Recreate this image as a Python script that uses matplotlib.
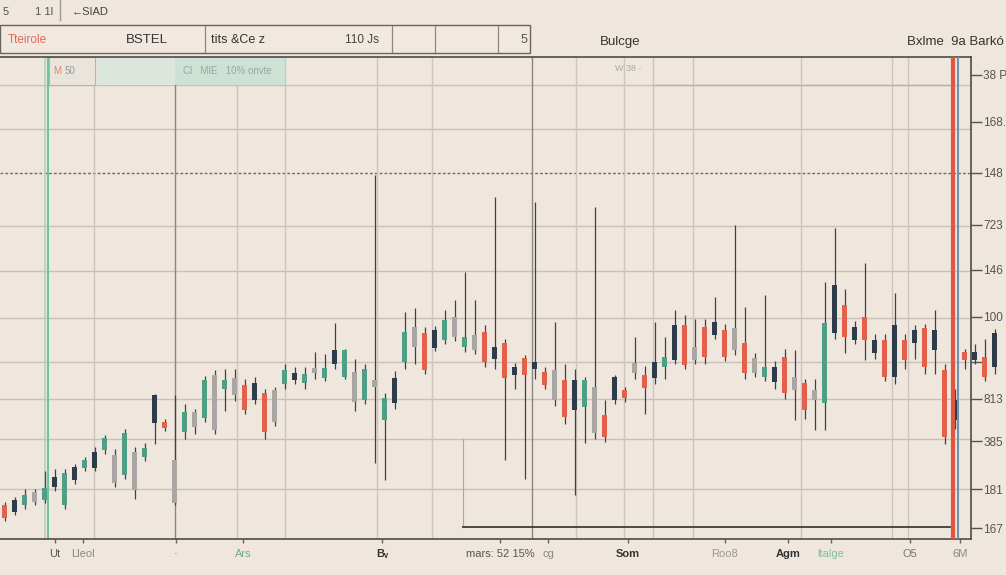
import numpy as np
import matplotlib
matplotlib.use("Agg")
import matplotlib.pyplot as plt
from matplotlib.patches import Rectangle

plt.rcParams['font.family'] = ['Liberation Sans', 'DejaVu Sans']

# Candles (open, high, low, close), one per session
opens = [34, 27, 34, 47, 39, 52, 34, 59, 71, 71, 89, 84, 64, 87, 82, 116, 117, 79, 107, 127,
         121, 164, 150, 161, 154, 139, 146, 149, 155, 159, 156, 171, 161, 175, 162, 167, 139, 159, 119, 136,
         177, 212, 206, 191, 199, 222, 192, 204, 207, 180, 196, 164, 181, 170, 167, 169, 159, 129, 132, 152,
         124, 139, 149, 176, 164, 161, 172, 179, 214, 192, 212, 204, 209, 211, 196, 181, 162, 157, 182, 162,
         156, 149, 136, 206, 234, 199, 222, 186, 199, 162, 199, 196, 211, 189, 169, 119, 187, 179, 182, 172]
highs = [37, 42, 50, 50, 68, 70, 70, 75, 82, 92, 104, 90, 110, 92, 96, 145, 120, 144, 135, 130,
         163, 169, 170, 170, 160, 162, 150, 152, 175, 172, 172, 187, 185, 216, 190, 180, 175, 364, 146, 168,
         227, 231, 212, 213, 229, 239, 267, 239, 214, 342, 200, 176, 184, 337, 172, 217, 175, 170, 162, 332,
         139, 164, 152, 202, 173, 217, 202, 229, 224, 220, 220, 242, 215, 314, 232, 186, 244, 178, 190, 189,
         160, 160, 257, 311, 250, 218, 276, 205, 205, 246, 205, 214, 215, 229, 175, 150, 190, 195, 200, 210]
lows = [18, 24, 30, 34, 36, 48, 30, 55, 68, 68, 85, 52, 60, 40, 78, 95, 108, 34, 100, 105,
        117, 105, 128, 138, 125, 135, 100, 113, 150, 155, 150, 160, 158, 170, 160, 128, 135, 76, 59, 130,
        170, 175, 165, 188, 195, 198, 187, 185, 172, 170, 79, 150, 60, 160, 150, 133, 115, 44, 96, 100,
        97, 135, 137, 160, 125, 155, 160, 175, 170, 175, 175, 200, 178, 184, 160, 162, 158, 150, 140, 119,
        120, 109, 109, 200, 186, 195, 179, 180, 158, 155, 170, 180, 165, 165, 95, 110, 170, 175, 158, 165]
closes = [21, 39, 44, 37, 51, 62, 66, 72, 79, 87, 101, 56, 106, 49, 91, 144, 111, 36, 127, 112,
          159, 109, 159, 144, 129, 156, 107, 117, 169, 166, 165, 166, 171, 189, 189, 137, 170, 152, 141, 161,
          207, 192, 169, 209, 219, 202, 202, 189, 177, 192, 161, 172, 164, 177, 154, 139, 122, 159, 159, 106,
          102, 162, 141, 166, 151, 177, 182, 214, 174, 179, 182, 217, 182, 189, 166, 166, 172, 172, 146, 149,
          129, 139, 216, 254, 202, 212, 199, 199, 162, 214, 179, 209, 172, 209, 102, 139, 179, 187, 162, 206]

# Right axis labels and bottom labels
right_ticks = [464, 417, 366, 314, 269, 222, 177, 140, 98, 50, 11]
right_labels = ['38 P', '168.', '148', '723', '146', '100', '', '813', '385', '181', '167']
bottom_pos = [5.0, 7.8, 17.1, 23.8, 37.7, 49.5, 54.3, 62.3, 72.0, 78.3, 82.6, 90.5, 95.5]
bottom_labels = ['Ut', 'Lleol', '·', 'Ars', 'Bᵥ', 'mars: 52 15%', 'cg', 'Som', 'Roo8', 'Agm',
                 'ltalge', 'O5', '6M']
bottom_colors = ['#555', '#888', '#666', '#6cae8e', '#333', '#555', '#888', '#333', '#999', '#333',
                 '#7fbf9c', '#777', '#888']

# grid positions
hgrid = [454, 410, 313, 268, 221, 177, 140, 100, 50]
vgrid = [8.9, 17.0, 23.2, 28.0, 37.2, 42.7, 52.7, 57.1, 61.9, 64.8, 68.8, 79.6, 88.7, 90.3]

BG = '#efe6dd'
UP_COLS = ['#4f9e86', '#2d3b4b']
DOWN_COLS = ['#e5604b', '#a9a6a3']

fig = plt.figure(figsize=(10.06, 5.75), dpi=100, facecolor=BG)
ax = fig.add_axes([0, 0.0626, 0.9652, 0.8383])
ax.set_facecolor(BG)

# grid
for g in hgrid:
    ax.axhline(g, color='#c9c1b8', lw=1, zorder=0)
ax.axhline(366, color='#6d6a66', lw=1, ls=(0, (2, 1.5)), zorder=0)
for g in vgrid:
    c = '#8c8782' if g in (17.0, 52.7) else '#cdc5bc'
    ax.axvline(g, color=c, lw=1, zorder=0)

# header band inside the plot
ax.add_patch(Rectangle((4.4, 454), 4.6, 28, facecolor='#e9e4dc', edgecolor='#b8b2aa', lw=0.8, zorder=1))
ax.add_patch(Rectangle((9.2, 454), 7.8, 28, facecolor='#dde6dc', edgecolor='none', zorder=1))
ax.add_patch(Rectangle((17.0, 454), 11.0, 28, facecolor='#cde2d5', edgecolor='none', zorder=1))
ax.text(4.8, 468, 'M', color='#e8806c', fontsize=7, va='center')
ax.text(6.0, 468, '50', color='#999', fontsize=7, va='center')
ax.text(17.8, 468, 'Cl   MIE   10% onvte', color='#9aa6a0', fontsize=7, va='center')
ax.text(61.0, 470, 'W 38 ·', color='#aaa', fontsize=6.5, va='center')
ax.plot([64.8, 94.5], [454, 454], color='#b9b2aa', lw=1)

# green and red/blue markers
ax.axvline(4.0, color='#a9d6c2', lw=1.2, zorder=1)
ax.axvline(4.3, color='#6fbf9f', lw=1.4, zorder=1)
ax.axvline(94.8, color='#e2553e', lw=3, zorder=4)
ax.axvline(95.3, color='#7090b0', lw=1.5, zorder=4)

# bottom bracket line
ax.plot([45.8, 94.5], [12, 12], color='#3c3c3c', lw=1.3, zorder=2)
ax.plot([45.8, 45.8], [12, 100], color='#c79c94', lw=0.8, zorder=1)

# candles
x = np.arange(len(opens))
o = np.array(opens); h = np.array(highs); l = np.array(lows); c = np.array(closes)
cols = []
for i in range(len(x)):
    if c[i] >= o[i]:
        cols.append(UP_COLS[i % 2])
    else:
        cols.append(DOWN_COLS[i % 2])
ax.vlines(x, l, h, colors='#3d4148', lw=0.9, zorder=3, clip_on=False)
body_low = np.minimum(o, c)
body_h = np.maximum(np.abs(c - o), 2)
ax.bar(x, body_h, bottom=body_low, width=0.5, color=cols, zorder=3, clip_on=False)

ax.set_xlim(-0.5, 96.6)
ax.set_ylim(0, 482)

# spines
for s in ['top', 'right', 'bottom']:
    ax.spines[s].set_color('#4e4a46')
    ax.spines[s].set_linewidth(1.2)
ax.spines['left'].set_visible(False)

ax.yaxis.tick_right()
ax.set_yticks(right_ticks)
ax.set_yticklabels(right_labels)
ax.tick_params(axis='y', length=8, width=1, color='#555', labelsize=8.5, labelcolor='#555', pad=1)
ax.set_xticks(bottom_pos)
ax.set_xticklabels(bottom_labels)
ax.tick_params(axis='x', length=3, width=1, color='#666', labelsize=8, pad=4)
for lab, col in zip(ax.get_xticklabels(), bottom_colors):
    lab.set_color(col)
    if lab.get_text() in ('Som', 'Bᵥ', 'Agm'):
        lab.set_fontweight('bold')


# header drawn in figure pixels
def fx(px):
    return px / 1006


def fy(py):
    return 1 - py / 575


fig.text(fx(3), fy(12), '5', fontsize=8, color='#555', va='center')
fig.text(fx(35), fy(12), '1 1l', fontsize=8, color='#555', va='center')
fig.add_artist(plt.Line2D([fx(60), fx(60)], [fy(0), fy(20)], color='#999', lw=1))
fig.text(fx(72), fy(12), '←SIAD', fontsize=8, color='#444', va='center')

fig.add_artist(Rectangle((fx(0), fy(53)), fx(530), fy(25) - fy(53), transform=fig.transFigure,
                         facecolor='#f1e8df', edgecolor='#6a655f', lw=1))
for dx in [205, 392, 435, 498]:
    fig.add_artist(plt.Line2D([fx(dx), fx(dx)], [fy(26), fy(52)], color='#8e8882', lw=0.9))
fig.text(fx(8), fy(40), 'Tteirole', fontsize=8.5, color='#e26a55', va='center')
fig.text(fx(126), fy(40), 'BSTEL', fontsize=9.5, color='#333', va='center')
fig.text(fx(211), fy(40), 'tits &Ce z', fontsize=9, color='#333', va='center')
fig.text(fx(345), fy(40), '110 Js', fontsize=8.5, color='#444', va='center')
fig.text(fx(521), fy(40), '5', fontsize=9, color='#555', va='center')
fig.text(fx(620), fy(42), 'Bulcge', fontsize=9.5, color='#333', va='center', ha='center')
fig.text(fx(1004), fy(42), 'Bxlme  9a Barkó', fontsize=9.5, color='#333', va='center', ha='right')

fig.savefig('out.png', dpi=100, facecolor=BG)
